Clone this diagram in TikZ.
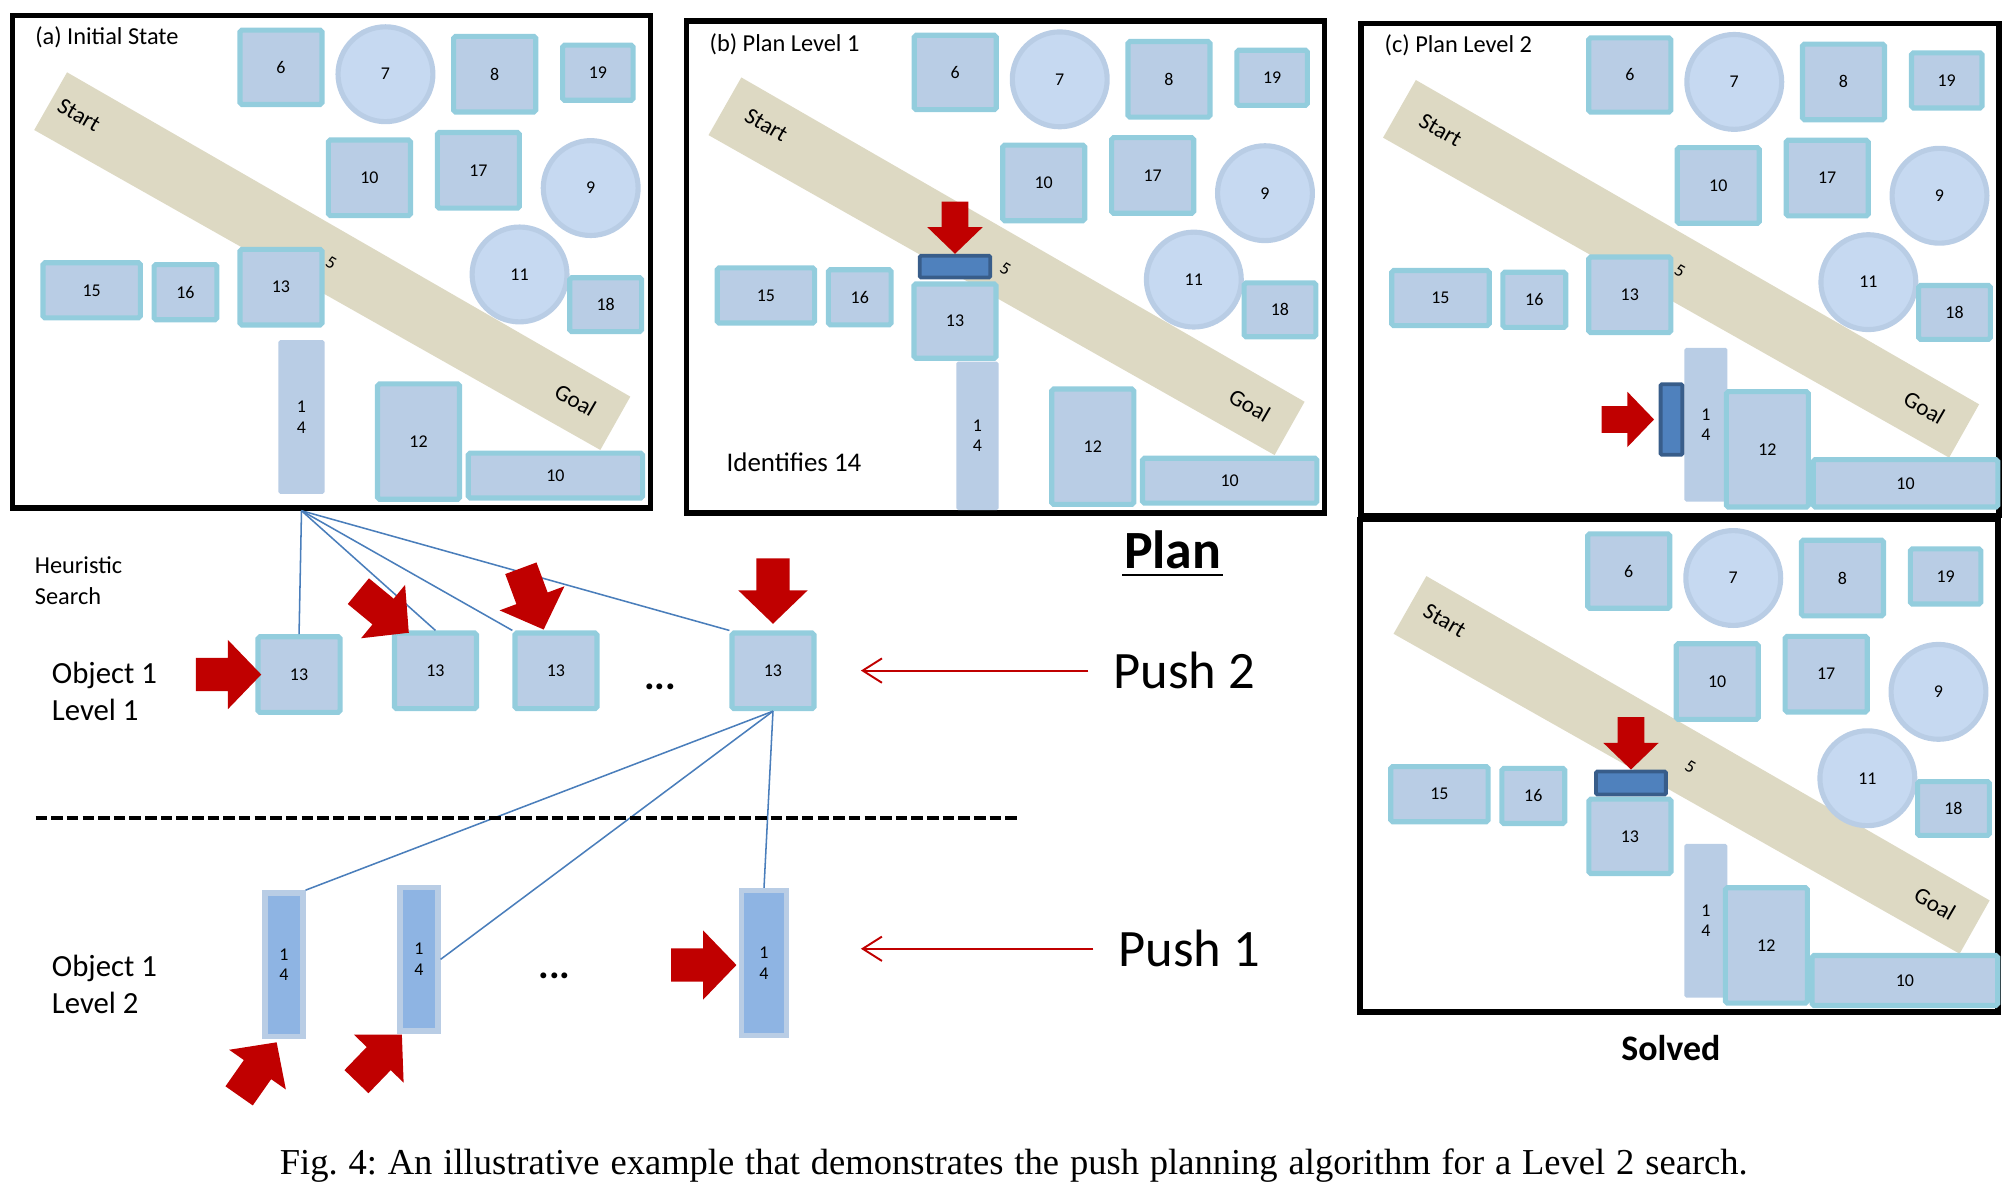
\documentclass[tikz,border=0pt]{standalone}
\usepackage{fontspec}
\setmainfont{Carlito}
\newfontfamily\capfont{Liberation Serif}
\usetikzlibrary{arrows.meta}

\definecolor{boxfill}{HTML}{B9CDE5}
\definecolor{boxline}{HTML}{93CDDD}
\definecolor{circfill}{HTML}{C6D9F1}
\definecolor{pathcol}{HTML}{DDD9C3}
\definecolor{pushfill}{HTML}{4F81BD}
\definecolor{pushline}{HTML}{385D8A}
\definecolor{barfill}{HTML}{8EB4E3}
\definecolor{arrred}{HTML}{C00000}
\definecolor{treeline}{HTML}{4A7EBB}

\tikzset{
  obj/.style={draw=boxline, fill=boxfill, line width=4pt, rounded corners=1.5pt, inner sep=0pt, font=\fontsize{14}{16}\selectfont},
  sq/.style={obj, minimum width=64pt, minimum height=59pt},
  disc/.style={circle, draw=boxfill, fill=circfill, line width=4pt, minimum size=74pt, inner sep=0pt, font=\fontsize{14}{16}\selectfont},
  longbar/.style={fill=boxfill, rounded corners=1.5pt, inner sep=0pt, align=center, font=\fontsize{14}{16}\selectfont},
  treebar/.style={draw=boxfill, fill=barfill, line width=4.4pt, inner sep=0pt, minimum width=29.6pt, minimum height=112pt, align=center, font=\fontsize{14}{16}\selectfont},
  pusher/.style={draw=pushline, fill=pushfill, line width=3pt, rounded corners=1pt, inner sep=0pt},
  panel/.style={draw=black, line width=4.4pt, minimum width=497.7pt, minimum height=384pt, inner sep=0pt},
  title/.style={anchor=base west, inner sep=0pt, font=\fontsize{19}{23}\selectfont},
  lanetext/.style={inner sep=0pt, rotate=-30, font=\fontsize{18}{22}\selectfont},
  words/.style={anchor=base west, inner sep=0pt, align=left},
  dots/.style={anchor=base, inner sep=0pt, font=\bfseries\fontsize{31}{36}\selectfont},
  branch/.style={draw=treeline, line width=1.2pt},
  pusharrow/.style={draw=arrred, line width=1.5pt, -{Straight Barb[length=15pt,width=19pt]}},
  blockarrow/.pic={\fill[arrred] (0,0) -- (-26,27) -- (-26,13) -- (-51,13) -- (-51,-13) -- (-26,-13) -- (-26,-27) -- cycle;}
}

% frame, path and the fixed obstacles of one panel
% #1: shift of the path, #2: place of "Start", #3: what lies under the obstacles
\newcommand{\drawscene}[3]{%
  \node[panel] (frame) at (258.5,204.2) {};
  \begin{scope}[xshift=#1]
    \fill[pathcol] (52.3,56.4) -- (491.7,309.4) -- (468.3,351) -- (26.7,101.4) -- cycle;
    \node[lanetext] (start) at #2 {Start};
    \node[lanetext] (goal) at (449,312) {Goal};
    \node[lanetext, font=\fontsize{14}{16}\selectfont] (five) at (258.3,205.4) {5};
  \end{scope}
  #3
  \node[sq, minimum height=58pt] (6) at (219.2,52.5) {6};
  \node[disc] (7) at (300.7,57.9) {7};
  \node[sq] (8) at (385.9,57.9) {8};
  \node[obj, minimum width=55pt, minimum height=43pt] (19) at (466.4,56.7) {19};
  \node[sq] (10u) at (288.2,138.7) {10};
  \node[sq] (17) at (373.2,132.9) {17};
  \node[disc] (9) at (460.8,146.7) {9};
  \node[disc] (11) at (405.3,214.1) {11};
  \node[obj, minimum width=56pt, minimum height=42pt] (18) at (472.5,237.7) {18};
  \node[obj, minimum width=76pt, minimum height=43pt] (15) at (71.5,226.5) {15};
  \node[obj, minimum width=49pt, minimum height=43pt] (16) at (144.7,227.9) {16};
  \node[obj, minimum width=64pt, minimum height=90pt] (12) at (326.5,344.5) {12};
}

\begin{document}
\begin{tikzpicture}[x=1pt,y=-1pt]
  \useasboundingbox (0,0) rectangle (1568,924);

  % (a) initial state
  \begin{scope}[name prefix=a-]
    \drawscene{0pt}{(61.7,89.7)}{\node[longbar, minimum width=36pt, minimum height=120pt] (14) at (235.2,325.3) {1\\4};}
    \node[sq] (13) at (219.2,224) {13};
    \node[obj, minimum width=136pt, minimum height=35pt] (10l) at (433.3,371) {10};
    \node[title] (title) at (27.3,35.1) {(a) Initial State};
  \end{scope}

  % (b) plan level 1
  \begin{scope}[shift={(526,4)}, name prefix=b-]
    \drawscene{0pt}{(71.8,93.5)}{\node[longbar, minimum width=33pt, minimum height=116pt] (14) at (236.5,336) {1\\4};}
    \node[sq, minimum height=58pt] (13) at (219,246.5) {13};
    \node[obj, minimum width=136pt, minimum height=35pt] (10l) at (433.3,371) {10};
    \node[pusher, minimum width=55pt, minimum height=17pt] (pusher) at (219,204) {};
    \pic[rotate=-90, scale=0.8] at (pusher.north) {blockarrow};
    \node[words, font=\fontsize{21}{25}\selectfont] (note) at (40.6,363.8) {Identifies 14};
    \node[title] (title) at (27.4,35.8) {(b) Plan Level 1};
  \end{scope}

  % (c) plan level 2
  \begin{scope}[shift={(1052.2,6)}, name prefix=c-]
    \drawscene{0pt}{(71.5,95.4)}{\node[longbar, minimum width=33.6pt, minimum height=120pt] (14) at (278.6,325.3) {1\\4};}
    \node[sq] (13) at (219.2,224) {13};
    \node[obj, minimum width=144pt, minimum height=37pt] (10l) at (434.3,371) {10};
    \node[pusher, minimum width=17pt, minimum height=55pt] (pusher) at (251.7,321.2) {};
    \pic[scale=0.8] at ([xshift=-3.6pt]pusher.west) {blockarrow};
    \node[title] (title) at (27.8,35.1) {(c) Plan Level 2};
  \end{scope}

  % solved
  \begin{scope}[shift={(1051.4,393)}, name prefix=d-]
    \drawscene{9pt}{(66.6,91.2)}{\node[longbar, minimum width=33.5pt, minimum height=120pt] (14) at (279.3,325.2) {1\\4};}
    \node[sq, minimum height=58pt] (13) at (220.1,259.4) {13};
    \node[obj, minimum width=144.8pt, minimum height=39pt] (10l) at (434.6,371.9) {10};
    \node[pusher, minimum width=54.5pt, minimum height=18pt] (pusher) at (220.9,217.8) {};
    \pic[rotate=-90, scale=0.8] at (pusher.north) {blockarrow};
  \end{scope}

  % search tree
  \coordinate (root) at (a-frame.south -| a-14);
  \node[sq] (l1a) at (233.3,526.2) {13};
  \node[sq] (l1b) at (339.7,523.3) {13};
  \node[sq] (l1c) at (433.7,523.3) {13};
  \node[sq] (l1d) at (603,523.3) {13};
  \node[treebar] (l2a) at (221.4,752.6) {1\\4};
  \node[treebar] (l2b) at (326.7,748.4) {1\\4};
  \node[treebar, minimum width=35pt, minimum height=113pt] (l2c) at (596,751.3) {1\\4};

  \draw[branch] (root) -- (l1a.north);
  \foreach \t/\a in {l1b/north, l1c/north west, l1d/north west}
    \draw[branch] (root) -- (\t.\a);
  \draw[branch] (l1d.south) -- (l2a.north east);
  \draw[branch] (l1d.south) -- (l2b.east);
  \draw[branch] (l1d.south) -- (l2c.north);

  % pushes
  \pic at ([xshift=4.5pt]l1a.west) {blockarrow};
  \pic[rotate=-39.5] at ([xshift=13.2pt,yshift=-1.8pt]l1b.north west) {blockarrow};
  \pic[rotate=-69.6] at ([xshift=24.4pt,yshift=0.7pt]l1c.north west) {blockarrow};
  \pic[rotate=-90] at ([yshift=5.2pt]l1d.north) {blockarrow};
  \pic[rotate=55] at ([xshift=-5.6pt,yshift=-2.3pt]l2a.south) {blockarrow};
  \pic[rotate=46] at ([xshift=3.8pt,yshift=-0.5pt]l2b.south west) {blockarrow};
  \pic at ([xshift=-1.8pt,yshift=-1.5pt]l2c.west) {blockarrow};

  % labels (base of a two-line node is its last line)
  \node[words, font=\fontsize{19}{24}\selectfont] (heur) at (27,471.7) {Heuristic\\Search};
  \node[words, font=\fontsize{24}{28.6}\selectfont] (obj1) at (40.3,562.1) {Object 1\\Level 1};
  \node[words, font=\fontsize{24}{28.6}\selectfont] (obj2) at (40.3,790.3) {Object 1\\Level 2};
  \node[dots] (dots1) at (515,537.8) {...};
  \node[dots] (dots2) at (432.6,763.7) {...};
  \draw[black, line width=3pt, dash pattern=on 9pt off 3.2pt] (27.8,638.4) -- (794.4,638.4);

  \node[words, font=\fontsize{41}{48}\selectfont] (push2) at (868.5,537.2) {Push 2};
  \node[words, font=\fontsize{41}{48}\selectfont] (push1) at (872.4,754.2) {Push 1};
  \coordinate (tipx) at (671.6,0);
  \draw[pusharrow] ([xshift=-19.5pt]push2.west) -- (push2.west -| tipx);
  \draw[pusharrow] ([xshift=-19.5pt]push1.west) -- (push1.west -| tipx);

  \node[anchor=base, inner sep=0pt, font=\bfseries\fontsize{42}{50}\selectfont] (plan) at (914.8,443.4) {Plan};
  \draw[line width=2.1pt] ([xshift=-1pt,yshift=-5.2pt]plan.base west) -- ([xshift=1pt,yshift=-5.2pt]plan.base east);
  \node[anchor=base, inner sep=0pt, font=\bfseries\fontsize{28}{34}\selectfont] (solved) at (1303.4,826.9) {Solved};

  \node[anchor=base, inner sep=0pt, font=\capfont\fontsize{28.5}{34}\selectfont] (caption) at (790.8,916)
    {\frenchspacing\makebox[1145pt][s]{Fig. 4: An illustrative example that demonstrates the push planning algorithm for a Level 2 search.}};
\end{tikzpicture}
\end{document}
